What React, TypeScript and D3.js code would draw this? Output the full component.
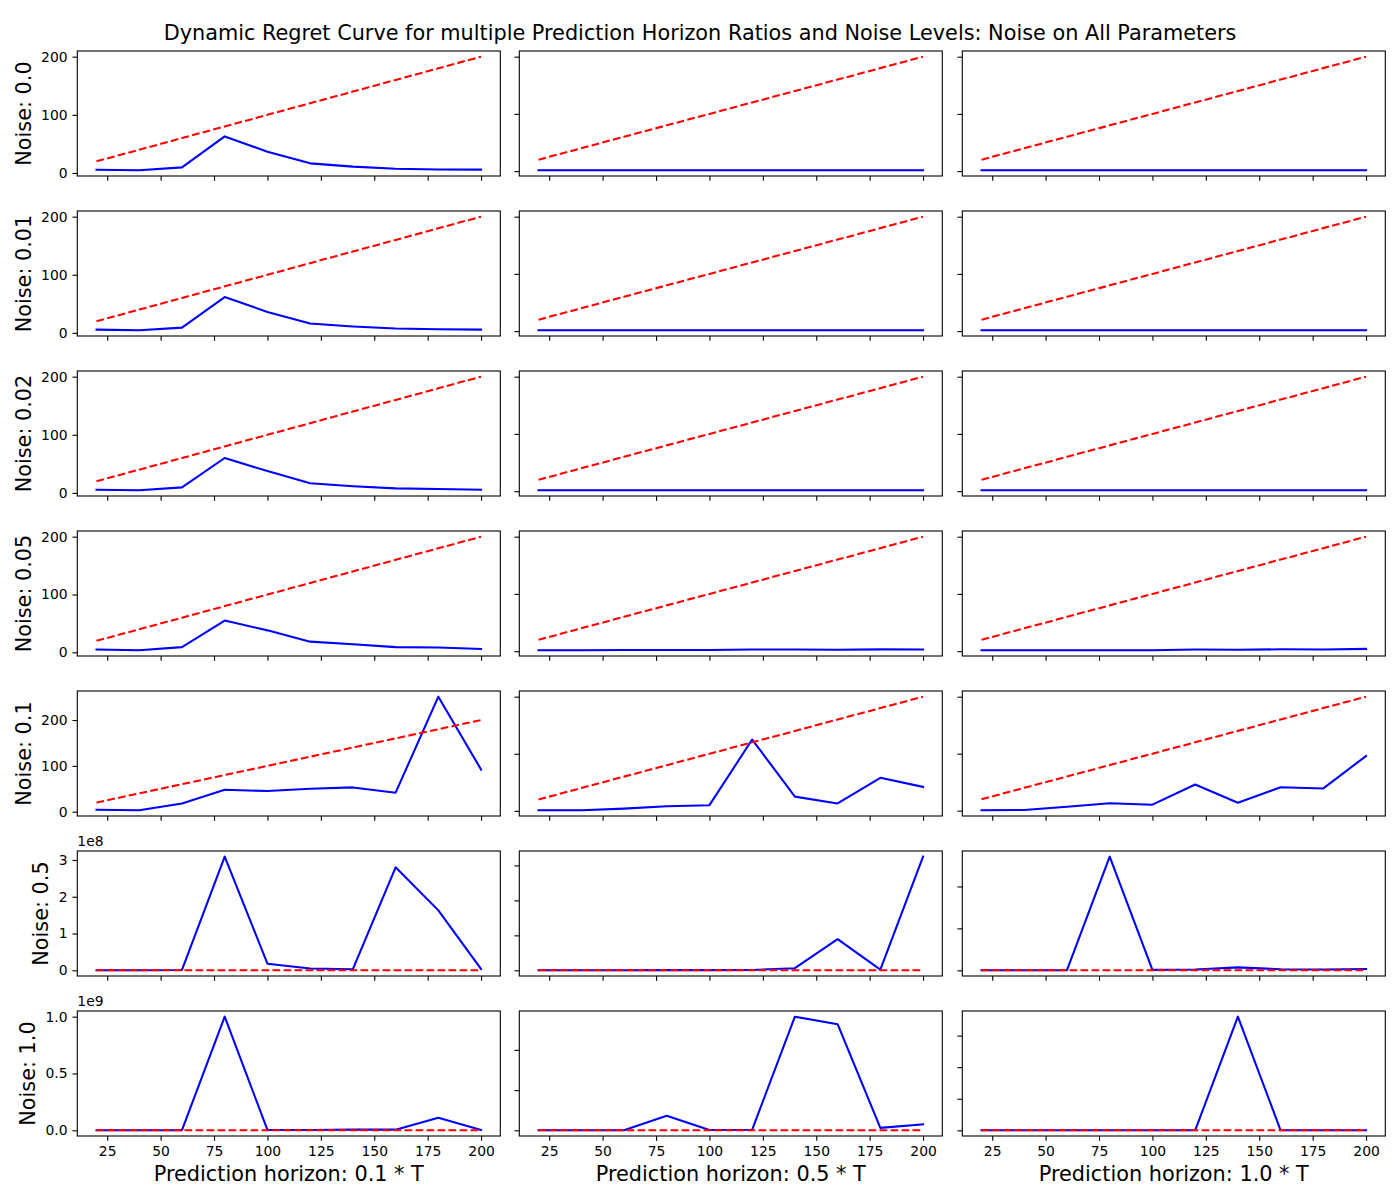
import React, { useRef, useEffect } from 'react';
import * as d3 from 'd3';

const horizons = [20, 40, 60, 80, 100, 120, 140, 160, 180, 200];
const linearBound = [20, 40, 60, 80, 100, 120, 140, 160, 180, 200];
const horizonRatios = ['0.1', '0.5', '1.0'];
const noiseLabels = ['0.0', '0.01', '0.02', '0.05', '0.1', '0.5', '1.0'];

// dynamic regret per noise level: one array per horizon ratio (0.1, 0.5, 1.0)
const regretNoise0 = [
    [5.7, 4.6, 9.7, 62.9, 36.6, 16.6, 11, 7.2, 6.1, 5.8],
    [1.6, 1.5, 1.5, 1.5, 1.4, 1.4, 1.4, 1.4, 1.4, 1.4],
    [1.5, 1.5, 1.4, 1.4, 1.4, 1.4, 1.4, 1.4, 1.4, 1.4],
];
const regretNoise001 = [
    [5.5, 4.3, 9, 61.5, 36, 16, 11, 7.5, 6.2, 5.5],
    [1.6, 1.5, 1.5, 1.5, 1.5, 1.4, 1.4, 1.4, 1.4, 1.4],
    [1.5, 1.5, 1.5, 1.4, 1.4, 1.4, 1.4, 1.4, 1.4, 1.4],
];
const regretNoise002 = [
    [5.5, 4.4, 9.5, 60, 37.5, 16.5, 11.5, 7.8, 6.8, 5.5],
    [1.6, 1.6, 1.5, 1.5, 1.5, 1.5, 1.5, 1.5, 1.5, 1.5],
    [1.5, 1.5, 1.5, 1.5, 1.5, 1.5, 1.5, 1.5, 1.5, 1.5],
];
const regretNoise005 = [
    [5, 3.5, 9, 55, 38, 18.5, 14, 9, 8.3, 5.8],
    [1.5, 1.5, 2, 2.2, 2.2, 2.8, 2.8, 2.6, 3.2, 2.8],
    [1.5, 1.5, 1.6, 1.6, 1.7, 2.8, 2.4, 3.3, 2.8, 4],
];
const regretNoise01 = [
    [4.4, 3, 18, 48, 45, 50, 53, 41.5, 251, 92],
    [1, 1.2, 4, 8, 10, 125, 25, 13, 58, 42],
    [0.6, 1.2, 7, 13, 10.5, 46, 14, 41, 39, 96],
];
const regretNoise05 = [
    [3e5, 3e5, 1e6, 3.09e8, 1.8e7, 5e6, 3e6, 2.8e8, 1.63e8, 3.5e6],
    [2e5, 2e5, 3e5, 5e5, 5e5, 1e6, 6e6, 8.9e7, 2e6, 3.25e8],
    [2e5, 2e5, 3e5, 2.71e8, 1e6, 2e6, 7e6, 2.5e6, 2e6, 3e6],
];
const regretNoise1 = [
    [1e6, 1e6, 1e6, 1.0e9, 3e6, 3e6, 6e6, 6e6, 1.1e8, 4e6],
    [1e6, 1e6, 1e6, 1.8e8, 4e6, 8e6, 1.413e9, 1.32e9, 3e7, 7.4e7],
    [1e5, 1e5, 1e5, 1e5, 1e5, 1e5, 9.0e8, 1e5, 1e5, 1e5],
];
const regretRows = [regretNoise0, regretNoise001, regretNoise002, regretNoise005, regretNoise01, regretNoise05, regretNoise1];

// pick ticks like matplotlib's MaxNLocator (steps 1, 2, 2.5, 5, 10)
function niceTicks(lo: number, hi: number, nbins: number) {
    const raw = (hi - lo) / nbins;
    const mag = Math.pow(10, Math.floor(Math.log10(raw)));
    const step = [1, 2, 2.5, 5, 10].map(s => s * mag).find(s => s >= raw * (1 - 1e-9))!;
    const out: number[] = [];
    for (let v = Math.ceil(lo / step) * step; v <= hi + step * 1e-9; v += step) {
        out.push(+v.toPrecision(12));
    }
    return out;
}

function decimals(v: number) {
    for (let d = 0; d < 6; d++) {
        if (Math.abs(v * 10 ** d - Math.round(v * 10 ** d)) < 1e-6) return d;
    }
    return 6;
}

function scalarFormat(ticks: number[]) {
    const maxAbs = d3.max(ticks, t => Math.abs(t)) || 0;
    const exp = maxAbs >= 1e6 ? Math.floor(Math.log10(maxAbs)) : 0;
    const scaled = ticks.map(t => t / 10 ** exp);
    const dec = d3.max(scaled, decimals) || 0;
    return { exp, fmt: (v: number) => (v / 10 ** exp).toFixed(dec) };
}

const App: React.FC = () => {
    const svgRef = useRef<SVGSVGElement | null>(null);

    useEffect(() => {
        document.body.style.margin = '0';
        const svg = d3.select(svgRef.current);
        svg.selectAll('*').remove();

        const font = 'DejaVu Sans';
        const colLeft = [77.3, 519.3, 962.3];
        const pw = 423;
        const ph = 125;
        const rowTop0 = 51;
        const rowStep = 160;
        const tickLen = 4.86;
        const tickPad = 4.86;
        const tickFont = 13.9;
        const labelFont = 20.8;

        svg.append('rect').attr('width', 1400).attr('height', 1200).attr('fill', '#fff');

        svg.append('text')
            .attr('x', 700)
            .attr('y', 40)
            .attr('text-anchor', 'middle')
            .attr('font-family', font)
            .attr('font-size', labelFont)
            .text('Dynamic Regret Curve for multiple Prediction Horizon Ratios and Noise Levels: Noise on All Parameters');

        const xPad = (d3.max(horizons)! - d3.min(horizons)!) * 0.05;
        const x = d3.scaleLinear()
            .domain([d3.min(horizons)! - xPad, d3.max(horizons)! + xPad])
            .range([0, pw]);
        const xTicks = niceTicks(x.domain()[0], x.domain()[1], 9);

        regretRows.forEach((row, r) => {
            row.forEach((series, c) => {
                const top = rowTop0 + r * rowStep;
                const g = svg.append('g').attr('transform', `translate(${colLeft[c]},${top})`);

                const [lo, hi] = d3.extent(series.concat(linearBound)) as [number, number];
                const pad = (hi - lo) * 0.05;
                const y = d3.scaleLinear().domain([lo - pad, hi + pad]).range([ph, 0]);
                const yTicks = niceTicks(lo - pad, hi + pad, 4);
                const { exp, fmt } = scalarFormat(yTicks);

                const line = d3.line<number>()
                    .x((_, i) => x(horizons[i]))
                    .y(d => y(d));

                g.append('path')
                    .datum(series)
                    .attr('d', line)
                    .attr('fill', 'none')
                    .attr('stroke', '#0000ff')
                    .attr('stroke-width', 2.08)
                    .attr('stroke-linecap', 'square')
                    .attr('stroke-linejoin', 'round');

                g.append('path')
                    .datum(linearBound)
                    .attr('d', line)
                    .attr('fill', 'none')
                    .attr('stroke', '#ff0000')
                    .attr('stroke-width', 2.08)
                    .attr('stroke-dasharray', '7.7,3.3')
                    .attr('stroke-linejoin', 'round');

                const yAxis = g.append('g')
                    .call(d3.axisLeft(y)
                        .tickValues(yTicks)
                        .tickSize(tickLen)
                        .tickPadding(tickPad)
                        .tickFormat(d => (c === 0 ? fmt(+d) : '')));

                const xAxis = g.append('g')
                    .attr('transform', `translate(0,${ph})`)
                    .call(d3.axisBottom(x)
                        .tickValues(xTicks)
                        .tickSize(tickLen)
                        .tickPadding(tickPad)
                        .tickFormat(d => (r === regretRows.length - 1 ? String(d) : '')));

                [yAxis, xAxis].forEach(ax => {
                    ax.attr('font-family', font).attr('font-size', tickFont);
                    ax.select('.domain').remove();
                    ax.selectAll('line').attr('stroke', '#000').attr('stroke-width', 1.1);
                    ax.selectAll('text').attr('fill', '#000');
                });

                g.append('rect')
                    .attr('width', pw)
                    .attr('height', ph)
                    .attr('fill', 'none')
                    .attr('stroke', '#000')
                    .attr('stroke-width', 1.1);

                if (c === 0) {
                    if (exp > 0) {
                        g.append('text')
                            .attr('x', 0)
                            .attr('y', -5)
                            .attr('font-family', font)
                            .attr('font-size', tickFont)
                            .text(`1e${exp}`);
                    }
                    const box = (yAxis.node() as SVGGElement).getBBox();
                    const lx = box.x - 5.56 - labelFont * 0.236;
                    g.append('text')
                        .attr('transform', `translate(${lx},${ph / 2}) rotate(-90)`)
                        .attr('text-anchor', 'middle')
                        .attr('font-family', font)
                        .attr('font-size', labelFont)
                        .text(`Noise: ${noiseLabels[r]}`);
                }

                if (r === regretRows.length - 1) {
                    g.append('text')
                        .attr('x', pw / 2)
                        .attr('y', ph + 45)
                        .attr('text-anchor', 'middle')
                        .attr('font-family', font)
                        .attr('font-size', labelFont)
                        .text(`Prediction horizon: ${horizonRatios[c]} * T`);
                }
            });
        });
    }, []);

    return <svg ref={svgRef} width={1400} height={1200} style={{ display: 'block' }} />;
};

export default App;
